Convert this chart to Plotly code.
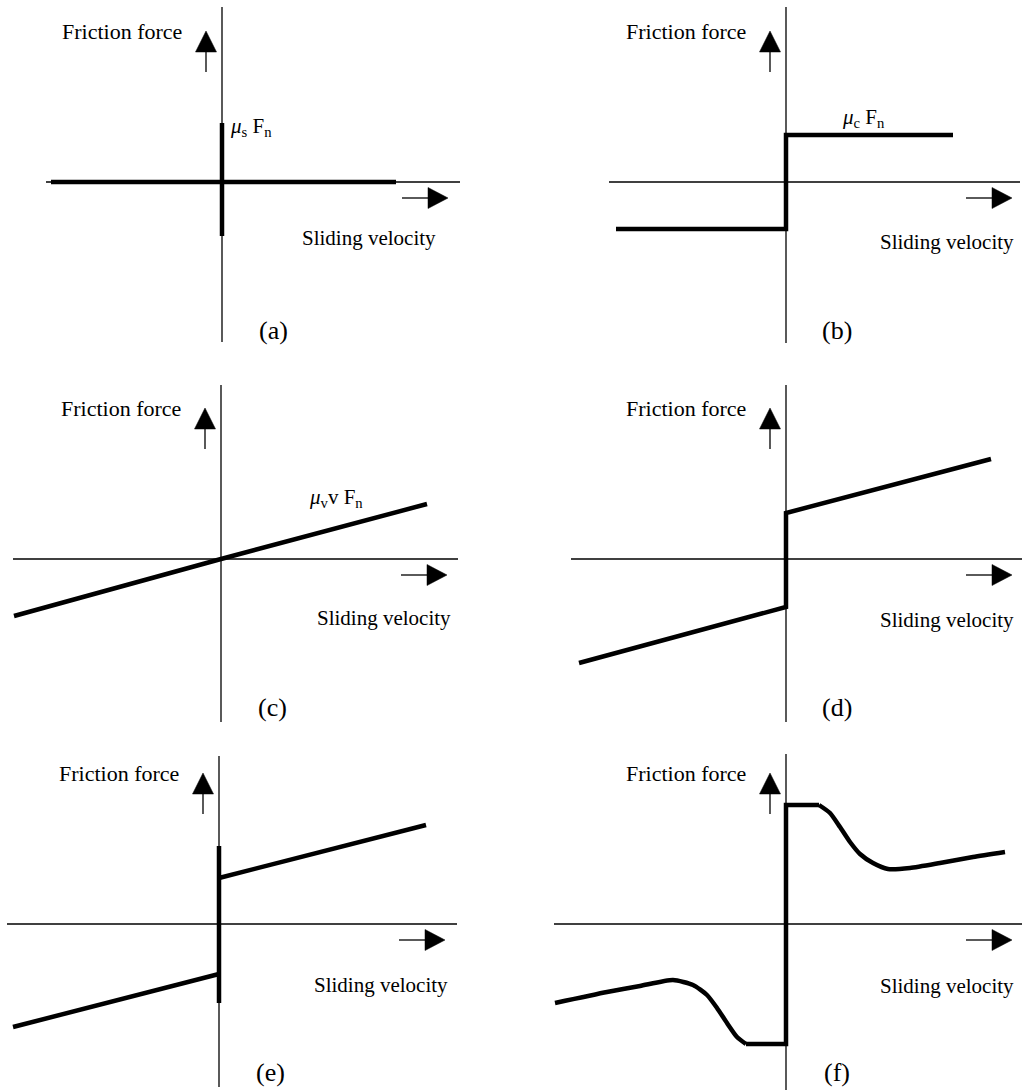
import plotly.graph_objects as go

# ---- friction models: sliding velocity (v) vs friction force (f), arbitrary units ----
# (a) static friction only
a_slide_v = [-1.71, 0.0, 1.74]
a_slide_f = [0.0, 0.0, 0.0]
a_stick_v = [0.0, 0.0]
a_stick_f = [-0.54, 0.59]

# (b) Coulomb friction
b_v = [-1.70, 0.0, 0.0, 1.67]
b_f = [-0.47, -0.47, 0.47, 0.47]

# (c) viscous friction
c_v = [-2.07, 0.0, 2.06]
c_f = [-0.57, 0.0, 0.55]

# (d) Coulomb + viscous
d_v = [-2.07, 0.0, 0.0, 2.05]
d_f = [-1.04, -0.48, 0.46, 1.00]

# (e) static + Coulomb + viscous
e_neg_v = [-2.06, 0.0]
e_neg_f = [-1.03, -0.50]
e_pos_v = [0.0, 2.07]
e_pos_f = [0.46, 0.99]
e_stick_v = [0.0, 0.0]
e_stick_f = [-0.79, 0.78]

# (f) Stribeck-type curve
f_left_v = [-2.31, -1.79, -1.46, -1.13, -0.93, -0.79, -0.69, -0.59, -0.49, -0.40]
f_left_f = [-0.79, -0.68, -0.62, -0.56, -0.61, -0.71, -0.84, -0.99, -1.13, -1.20]
f_step_v = [-0.40, 0.0, 0.0, 0.33]
f_step_f = [-1.20, -1.20, 1.19, 1.19]
f_right_v = [0.33, 0.44, 0.54, 0.64, 0.74, 0.87, 1.02, 1.24, 1.54, 1.87, 2.19]
f_right_f = [1.19, 1.11, 0.97, 0.82, 0.70, 0.61, 0.55, 0.56, 0.61, 0.67, 0.72]

# ---- labels ----
panel_letters = ["(a)", "(b)", "(c)", "(d)", "(e)", "(f)"]
y_title = "Friction force"
x_title = "Sliding velocity"
model_labels = {
    0: "<i>μ</i><sub>s</sub> F<sub>n</sub>",
    1: "<i>μ</i><sub>c</sub> F<sub>n</sub>",
    2: "<i>μ</i><sub>v</sub>v F<sub>n</sub>",
}

W, H = 1022, 1090
UNIT = 100.0  # pixels per data unit, same in x and y
FONT = "Liberation Serif"
THICK = 4.5
THIN = 1.3

# panel frame in pixels (x0, x1, y0, y1) and origin pixel (ox, oy)
panels = [
    dict(frame=(0, 511, 0, 365), origin=(222, 182), vax=(1.75, -1.60), hax=(-1.76, 2.38),
         xlab=(1.47, -0.56), mlabel=(0.29, 0.55)),
    dict(frame=(511, 1022, 0, 365), origin=(786, 182), vax=(1.75, -1.61), hax=(-1.77, 2.34),
         xlab=(1.61, -0.60), mlabel=(0.77, 0.64)),
    dict(frame=(0, 511, 365, 730), origin=(221, 559), vax=(1.74, -1.63), hax=(-2.08, 2.37),
         xlab=(1.63, -0.59), mlabel=(1.15, 0.61)),
    dict(frame=(511, 1022, 365, 730), origin=(786, 559), vax=(1.74, -1.63), hax=(-2.15, 2.40),
         xlab=(1.61, -0.61), mlabel=None),
    dict(frame=(0, 511, 730, 1090), origin=(219, 924), vax=(1.68, -1.63), hax=(-2.12, 2.38),
         xlab=(1.62, -0.61), mlabel=None),
    dict(frame=(511, 1022, 730, 1090), origin=(786, 924), vax=(1.70, -1.70), hax=(-2.32, 2.40),
         xlab=(1.61, -0.62), mlabel=None),
]

curves = [
    [(a_slide_v, a_slide_f, "linear"), (a_stick_v, a_stick_f, "linear")],
    [(b_v, b_f, "linear")],
    [(c_v, c_f, "linear")],
    [(d_v, d_f, "linear")],
    [(e_neg_v, e_neg_f, "linear"), (e_pos_v, e_pos_f, "linear"), (e_stick_v, e_stick_f, "linear")],
    [(f_left_v, f_left_f, "spline"), (f_step_v, f_step_f, "linear"), (f_right_v, f_right_f, "spline")],
]

fig = go.Figure()
shapes = []
annotations = []
layout_axes = {}

for i, p in enumerate(panels):
    n = i + 1
    xa = "x" if n == 1 else f"x{n}"
    ya = "y" if n == 1 else f"y{n}"
    x0, x1, y0, y1 = p["frame"]
    ox, oy = p["origin"]
    layout_axes["xaxis" if n == 1 else f"xaxis{n}"] = dict(
        domain=[x0 / W, x1 / W], range=[(x0 - ox) / UNIT, (x1 - ox) / UNIT],
        visible=False, showgrid=False, zeroline=False, fixedrange=True, anchor=ya)
    layout_axes["yaxis" if n == 1 else f"yaxis{n}"] = dict(
        domain=[1 - y1 / H, 1 - y0 / H], range=[(oy - y1) / UNIT, (oy - y0) / UNIT],
        visible=False, showgrid=False, zeroline=False, fixedrange=True, anchor=xa)

    # thin coordinate axes
    shapes.append(dict(type="line", xref=xa, yref=ya, x0=0, x1=0, y0=p["vax"][1], y1=p["vax"][0],
                       line=dict(color="black", width=THIN), layer="below"))
    shapes.append(dict(type="line", xref=xa, yref=ya, x0=p["hax"][0], x1=p["hax"][1], y0=0, y1=0,
                       line=dict(color="black", width=THIN), layer="below"))

    # upward arrow beside the force axis
    shapes.append(dict(type="line", xref=xa, yref=ya, x0=-0.16, x1=-0.16, y0=1.10, y1=1.32,
                       line=dict(color="black", width=THIN)))
    shapes.append(dict(type="path", xref=xa, yref=ya,
                       path="M -0.265 1.30 L -0.055 1.30 L -0.16 1.51 Z",
                       fillcolor="black", line=dict(color="black", width=0.5)))
    # rightward arrow under the velocity axis
    shapes.append(dict(type="line", xref=xa, yref=ya, x0=1.80, x1=2.08, y0=-0.16, y1=-0.16,
                       line=dict(color="black", width=THIN)))
    shapes.append(dict(type="path", xref=xa, yref=ya,
                       path="M 2.06 -0.055 L 2.06 -0.265 L 2.26 -0.16 Z",
                       fillcolor="black", line=dict(color="black", width=0.5)))

    for v, f, shape in curves[i]:
        fig.add_trace(go.Scatter(
            x=v, y=f, mode="lines", xaxis=xa, yaxis=ya, showlegend=False, hoverinfo="skip",
            line=dict(color="black", width=THICK, shape=shape,
                      smoothing=0.6 if shape == "spline" else None)))

    annotations.append(dict(xref=xa, yref=ya, x=-1.0, y=1.51, text=y_title, showarrow=False,
                            font=dict(family=FONT, size=22, color="black")))
    annotations.append(dict(xref=xa, yref=ya, x=p["xlab"][0], y=p["xlab"][1], text=x_title,
                            showarrow=False, font=dict(family=FONT, size=21, color="black")))
    annotations.append(dict(xref=xa, yref=ya, x=0.51, y=-1.48, text=panel_letters[i],
                            showarrow=False, font=dict(family=FONT, size=26, color="black")))
    if p["mlabel"] is not None:
        annotations.append(dict(xref=xa, yref=ya, x=p["mlabel"][0], y=p["mlabel"][1],
                                text=model_labels[i], showarrow=False,
                                font=dict(family=FONT, size=21, color="black")))

fig.update_layout(
    width=W, height=H, margin=dict(l=0, r=0, t=0, b=0),
    paper_bgcolor="white", plot_bgcolor="white",
    shapes=shapes, annotations=annotations, showlegend=False,
    **layout_axes,
)

fig.write_html("out.html", config=dict(displayModeBar=False))
